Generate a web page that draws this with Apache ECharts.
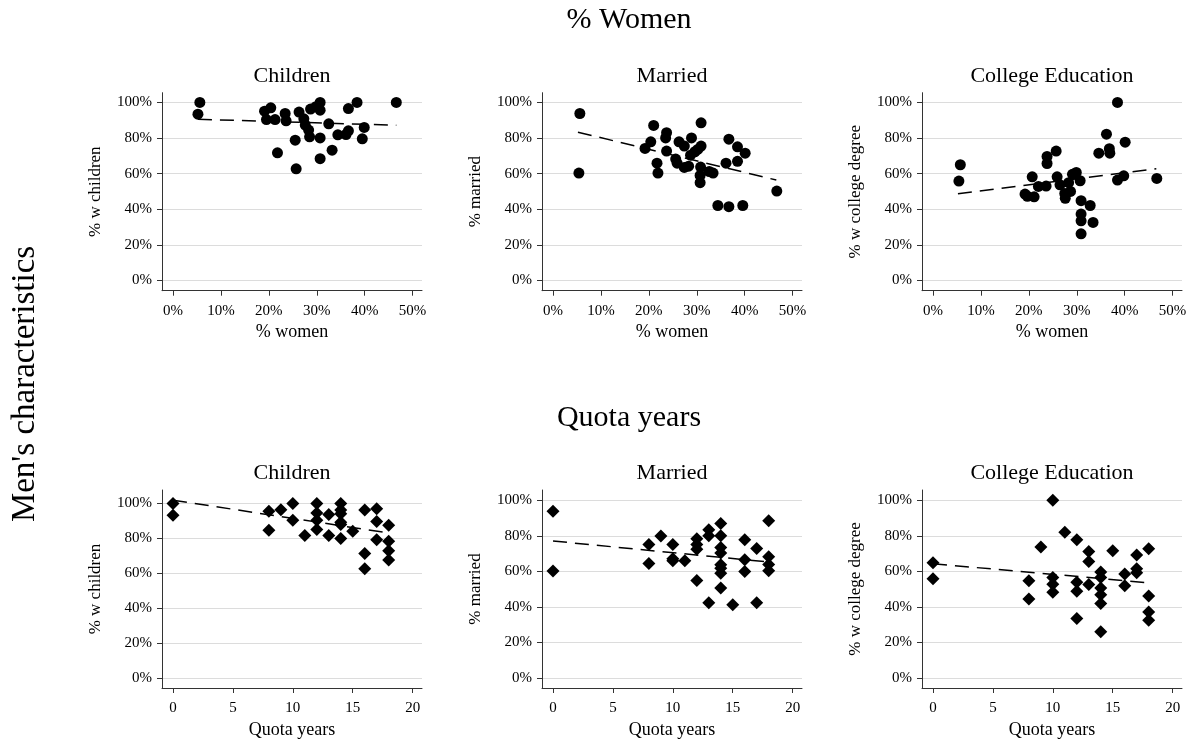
<!DOCTYPE html>
<html><head><meta charset="utf-8">
<script src="https://cdn.jsdelivr.net/npm/echarts@6/dist/echarts.min.js"></script>
<style>html,body{margin:0;padding:0;background:#fff}#c{width:1192px;height:744px}</style>
</head><body><div id="c"></div>
<script>
// ---- Data (values in %, quota in years) ----
const womenChildrenX = [5.6,5.2,19.1,20.4,19.5,21.3,23.4,23.6,26.3,27.3,27.6,28.3,28.5,25.5,21.8,25.7,28.7,29.8,30.7,30.7,30.7,30.7,32.5,33.2,34.4,36.1,36.6,36.6,38.4,39.9,39.5,46.6];
const womenChildrenY = [100,93.4,95.1,97,90.4,90.4,93.8,89.7,94.6,90.8,87.3,84.5,80.7,78.8,71.7,62.7,96.3,97.6,100,95.7,80.1,68.4,88,73.2,81.8,82,84.1,96.6,100,86,79.6,100];
const womenMarriedX = [5.6,5.4,21.0,20.4,19.2,21.7,21.9,23.7,23.5,23.7,26.3,27.4,25.6,25.9,27.4,28.3,28.9,28.7,29.6,30.2,30.9,30.9,30.8,30.7,30.7,32.6,33.4,34.4,36.1,36.7,36.7,38.5,38.5,40.1,39.6,46.7];
const womenMarriedY = [93.8,60.3,87.1,77.9,74.2,65.9,60.3,83.0,80.1,72.7,77.9,75.5,68.2,65.9,63.5,64.2,80.1,70.4,72.3,73.6,75.5,88.6,63.7,59.0,54.9,61.2,60.3,42.1,65.9,79.4,41.4,75.1,66.9,71.5,42.1,50.2];
const womenCollegeX = [5.7,5.4,20.7,19.2,19.7,21.1,22.0,23.6,23.8,23.8,25.7,25.9,26.5,27.5,27.6,28.3,28.7,29.1,29.9,30.7,30.9,30.9,30.9,30.9,32.8,33.4,34.6,36.2,36.8,36.9,38.5,38.5,39.8,40.1,46.7];
const womenCollegeY = [65.0,55.8,58.2,48.5,47.3,47.0,52.8,53.0,69.7,65.7,72.7,58.2,53.7,48.9,46.1,54.9,50.0,59.6,60.7,56.0,44.8,37.3,33.5,26.2,42.1,32.6,71.5,82.2,74.0,71.5,100,56.4,58.8,77.7,57.3];
const quotaChildrenX = [0,0,8,8,9,10,10,11,12,12,12,12,13,13,14,14,14,14,14,14,15,16,16,16,17,17,17,18,18,18,18];
const quotaChildrenY = [100,93.3,95.6,84.7,96.4,100,90.4,81.6,100,94.6,90.4,85.1,93.7,81.6,100,96.2,94.1,89.3,88.0,79.9,84.1,96.2,71.3,62.7,96.9,89.7,79.2,87.6,78.4,73.0,67.7];
const quotaMarriedX = [0,0,8,8,9,10,10,10,11,12,12,12,12,13,13,13,14,14,14,14,14,14,14,14,15,16,16,16,17,17,18,18,18,18];
const quotaMarriedY = [93.8,60.2,75.2,64.5,79.9,75.2,67.1,66.0,66.0,78.4,75.2,72.4,54.9,83.5,80.1,42.3,87.0,80.1,73.5,70.3,63.7,61.8,59.0,50.6,41.2,77.8,66.5,60.0,72.9,42.3,88.5,68.2,63.9,60.3];
const quotaCollegeX = [0,0,8,8,9,10,10,10,10,11,12,12,12,12,13,13,13,14,14,14,14,14,14,15,16,16,17,17,17,18,18,18,18];
const quotaCollegeY = [64.8,55.8,54.7,44.5,73.7,100,56.6,52.8,48.3,82.0,77.8,53.9,48.9,33.5,71.2,65.6,52.6,59.6,56.6,50.6,46.8,41.9,26.1,71.6,58.5,51.9,69.2,61.5,59.2,72.7,46.1,37.2,32.5];
// fitted-line endpoints
const fitWomenX = [5.2, 46.6];
const fitWomenChildrenY = [90.6, 87.2];
const fitWomenMarriedY = [83.3, 56.4];
const fitWomenCollegeY = [48.7, 62.7];
const fitQuotaX = [0, 18];
const fitQuotaChildrenY = [101.9, 83.1];
const fitQuotaMarriedY = [77.1, 65.3];
const fitQuotaCollegeY = [64.3, 53.6];
// tick labels
const pctTicks = [0,20,40,60,80,100];
const womenTicks = [0,10,20,30,40,50];
const quotaTicks = [0,5,10,15,20];
const panelTitles = ['Children','Married','College Education'];
const yNames = ['% w children','% married','% w college degree'];
const rowTitles = ['% Women','Quota years'];
const xNames = ['% women','Quota years'];
const sideTitle = "Men's characteristics";

const FONT = '"Liberation Serif", "Times New Roman", serif';
const colLeft = [162, 542, 922];
const rowTop = [92.7, 490];
const W = 260, H = 198;

const panels = [
  {r:0,c:0,x:womenChildrenX,y:womenChildrenY,fx:fitWomenX,fy:fitWomenChildrenY,yr:[-5.8,105.5]},
  {r:0,c:1,x:womenMarriedX,y:womenMarriedY,fx:fitWomenX,fy:fitWomenMarriedY,yr:[-5.8,105.5]},
  {r:0,c:2,x:womenCollegeX,y:womenCollegeY,fx:fitWomenX,fy:fitWomenCollegeY,yr:[-5.8,105.5]},
  {r:1,c:0,x:quotaChildrenX,y:quotaChildrenY,fx:fitQuotaX,fy:fitQuotaChildrenY,yr:[-5.6,107.7]},
  {r:1,c:1,x:quotaMarriedX,y:quotaMarriedY,fx:fitQuotaX,fy:fitQuotaMarriedY,yr:[-5.6,105.8]},
  {r:1,c:2,x:quotaCollegeX,y:quotaCollegeY,fx:fitQuotaX,fy:fitQuotaCollegeY,yr:[-5.6,105.8]}
];

const grid = [], xAxis = [], yAxis = [], series = [], graphic = [];
const axisCommon = {
  axisLine:{show:true,onZero:false,lineStyle:{color:'#333',width:1}},
  axisTick:{show:true,length:5,lineStyle:{color:'#333',width:1}},
};
panels.forEach((p,i)=>{
  grid.push({left:colLeft[p.c], top:rowTop[p.r], width:W, height:H});
  const top = p.r===0;
  const xt = top ? womenTicks : quotaTicks;
  xAxis.push({
    gridIndex:i, type:'value',
    min: top ? -2.3 : -0.92, max: top ? 51.96 : 20.78,
    name: xNames[p.r], nameLocation:'middle', nameGap:33,
    nameTextStyle:{fontFamily:FONT,fontSize:18,color:'#000'},
    axisLine:axisCommon.axisLine,
    axisTick:Object.assign({customValues:xt},axisCommon.axisTick),
    axisLabel:{customValues:xt, margin:13, fontFamily:FONT, fontSize:15, color:'#000',
      formatter: v => top ? v+'%' : String(v)},
    splitLine:{show:false}
  });
  yAxis.push({
    gridIndex:i, type:'value', min:p.yr[0], max:p.yr[1],
    name: yNames[p.c], nameLocation:'middle', nameGap:58, nameRotate:90,
    nameTextStyle:{fontFamily:FONT,fontSize:17,color:'#000'},
    axisLine:axisCommon.axisLine,
    axisTick:Object.assign({customValues:pctTicks},axisCommon.axisTick),
    axisLabel:{customValues:pctTicks, margin:10, fontFamily:FONT, fontSize:15, color:'#000',
      formatter: v => v+'%'},
    splitLine:{show:true,lineStyle:{color:'#dcdcdc',width:1}}
  });
  series.push({
    type:'scatter', xAxisIndex:i, yAxisIndex:i,
    symbol: top ? 'circle' : 'diamond', symbolSize: top ? 11 : 13,
    itemStyle:{color:'#000', opacity:1},
    data: p.x.map((v,k)=>[v,p.y[k]])
  });
  series.push({
    type:'line', xAxisIndex:i, yAxisIndex:i, symbol:'none', z:3,
    lineStyle:{color:'#000',width:1.5,type:[14,8]},
    data: p.fx.map((v,k)=>[v,p.fy[k]])
  });
  graphic.push({type:'text', x:colLeft[p.c]+W/2, y: p.r===0 ? 76 : 473,
    style:{text:panelTitles[p.c], fontFamily:FONT, fontSize:22, fill:'#000', align:'center', verticalAlign:'middle'}});
});
graphic.push({type:'text', x:629, y:20, style:{text:rowTitles[0], fontFamily:FONT, fontSize:30, fill:'#000', align:'center', verticalAlign:'middle'}});
graphic.push({type:'text', x:629, y:418, style:{text:rowTitles[1], fontFamily:FONT, fontSize:30, fill:'#000', align:'center', verticalAlign:'middle'}});
graphic.push({type:'text', x:25, y:384, rotation:Math.PI/2, style:{text:sideTitle, fontFamily:FONT, fontSize:33, fill:'#000', align:'center', verticalAlign:'middle'}});

const chart = echarts.init(document.getElementById('c'), null, {renderer:'canvas'});
chart.setOption({animation:false, backgroundColor:'#fff', grid, xAxis, yAxis, series, graphic});
</script>
</body></html>
